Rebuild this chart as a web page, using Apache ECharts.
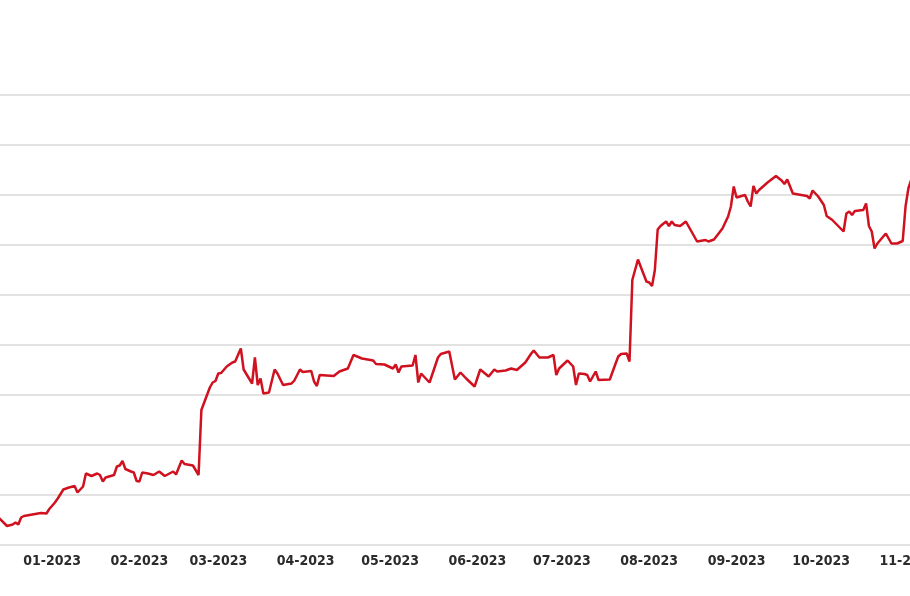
<!DOCTYPE html>
<html>
<head>
<meta charset="utf-8">
<style>
html,body{margin:0;padding:0;background:#fff;}
#chart{width:910px;height:596px;}
</style>
<script src="https://cdn.jsdelivr.net/npm/echarts@6/dist/echarts.min.js"></script>
</head>
<body>
<div id="chart"></div>
<script>
const dates = [
'2022-12-13','2022-12-16','2022-12-18','2022-12-19','2022-12-20','2022-12-21','2022-12-22','2022-12-24','2022-12-27','2022-12-28',
'2022-12-30','2022-12-31','2023-01-02','2023-01-03','2023-01-05','2023-01-07','2023-01-09','2023-01-10','2023-01-12','2023-01-13',
'2023-01-15','2023-01-17','2023-01-18','2023-01-19','2023-01-20','2023-01-23','2023-01-24','2023-01-25','2023-01-26','2023-01-27',
'2023-01-29','2023-01-30','2023-01-31','2023-02-01','2023-02-02','2023-02-04','2023-02-06','2023-02-08','2023-02-10','2023-02-13',
'2023-02-14','2023-02-16','2023-02-17','2023-02-20','2023-02-22','2023-02-23','2023-02-24','2023-02-26','2023-02-27','2023-02-28',
'2023-03-01','2023-03-02','2023-03-04','2023-03-06','2023-03-07','2023-03-09','2023-03-10','2023-03-13','2023-03-14','2023-03-15',
'2023-03-16','2023-03-17','2023-03-19','2023-03-21','2023-03-22','2023-03-24','2023-03-27','2023-03-28','2023-03-30','2023-03-31',
'2023-04-03','2023-04-04','2023-04-05','2023-04-06','2023-04-11','2023-04-13','2023-04-16','2023-04-18','2023-04-21','2023-04-25',
'2023-04-26','2023-04-29','2023-05-02','2023-05-03','2023-05-04','2023-05-05','2023-05-09','2023-05-10','2023-05-11','2023-05-12',
'2023-05-15','2023-05-18','2023-05-19','2023-05-22','2023-05-24','2023-05-26','2023-05-28','2023-05-31','2023-06-02','2023-06-05',
'2023-06-07','2023-06-08','2023-06-11','2023-06-13','2023-06-15','2023-06-18','2023-06-20','2023-06-21','2023-06-23','2023-06-26',
'2023-06-28','2023-06-29','2023-06-30','2023-07-03','2023-07-05','2023-07-06','2023-07-07','2023-07-09','2023-07-10','2023-07-11',
'2023-07-13','2023-07-14','2023-07-18','2023-07-20','2023-07-21','2023-07-22','2023-07-24','2023-07-25','2023-07-26','2023-07-28',
'2023-07-31','2023-08-01','2023-08-02','2023-08-03','2023-08-04','2023-08-05','2023-08-07','2023-08-08','2023-08-09','2023-08-10',
'2023-08-12','2023-08-14','2023-08-16','2023-08-18','2023-08-21','2023-08-22','2023-08-24','2023-08-27','2023-08-29','2023-08-30',
'2023-08-31','2023-09-01','2023-09-04','2023-09-05','2023-09-06','2023-09-07','2023-09-08','2023-09-09','2023-09-12','2023-09-15',
'2023-09-17','2023-09-18','2023-09-19','2023-09-21','2023-09-26','2023-09-27','2023-09-28','2023-09-30','2023-10-02','2023-10-03',
'2023-10-05','2023-10-09','2023-10-10','2023-10-11','2023-10-12','2023-10-13','2023-10-16','2023-10-17','2023-10-18','2023-10-19',
'2023-10-20','2023-10-21','2023-10-24','2023-10-26','2023-10-28','2023-10-30','2023-10-31','2023-11-01','2023-11-02'
];
const values = [
5.5,3.8,4.1,4.5,4.1,5.5,5.8,6.0,6.3,6.4,
6.3,7.2,8.5,9.3,11.1,11.5,11.8,10.5,11.7,14.3,
13.8,14.3,14.0,12.7,13.5,14.0,15.7,15.9,16.8,15.2,
14.7,14.5,12.8,12.7,14.5,14.3,14.0,14.7,13.8,14.7,
14.1,16.9,16.2,15.9,14.0,27.0,28.5,31.5,32.5,32.8,
34.3,34.4,35.7,36.5,36.7,39.3,35.1,32.3,37.5,32.0,
33.3,30.3,30.5,35.1,34.3,32.0,32.3,32.9,35.1,34.6,
34.8,32.7,31.8,34.0,33.8,34.7,35.3,38.0,37.3,36.9,
36.2,36.1,35.3,36.1,34.5,35.7,35.9,38.0,32.5,34.3,
32.5,37.5,38.2,38.7,33.1,34.5,33.3,31.7,35.1,33.7,
35.1,34.7,34.9,35.3,35.0,36.5,38.2,38.9,37.5,37.5,
38.0,34.0,35.3,36.9,35.7,32.0,34.3,34.2,34.0,32.7,
34.7,33.0,33.1,36.2,37.7,38.2,38.3,36.7,53.0,57.1,
52.7,52.5,51.8,55.0,63.1,63.8,64.7,63.8,64.7,64.0,
63.8,64.7,62.7,60.7,61.0,60.7,61.1,63.3,65.7,67.7,
71.7,69.5,70.0,68.7,67.7,71.8,70.3,71.0,72.5,73.8,
72.9,72.2,73.1,70.3,69.8,69.3,70.9,69.7,68.0,65.8,
65.0,62.7,66.3,66.7,66.0,66.8,67.0,68.3,63.8,62.7,
59.3,60.3,62.3,60.3,60.3,60.8,67.7,71.3,73.0
];
const xMin = '2022-12-13T12:00:00';
const xMax = '2023-11-01T14:00:00';
const yMin = 0, yMax = 90, yStep = 10;

const chart = echarts.init(document.getElementById('chart'), null, {renderer: 'canvas'});
chart.setOption({
  animation: false,
  backgroundColor: '#ffffff',
  grid: {left: 0, right: 0, top: 95, bottom: 51, containLabel: false, outerBoundsMode: 'none'},
  xAxis: {
    type: 'time',
    min: xMin,
    max: xMax,
    splitNumber: 11,
    axisLine: {show: false},
    axisTick: {show: false},
    splitLine: {show: false},
    axisLabel: {
      formatter: '{MM}-{yyyy}',
      color: '#2b2b2b',
      fontSize: 14,
      fontWeight: 'bold',
      fontFamily: "'Liberation Sans Narrow', 'DejaVu Sans Condensed', sans-serif",
      margin: 9,
      hideOverlap: false
    }
  },
  yAxis: {
    type: 'value',
    min: yMin,
    max: yMax,
    interval: yStep,
    axisLine: {show: false},
    axisTick: {show: false},
    axisLabel: {show: false},
    splitLine: {lineStyle: {color: '#e2e2e2', width: 2}}
  },
  series: [{
    type: 'line',
    data: dates.map((d, i) => [d, values[i]]),
    symbol: 'none',
    lineStyle: {color: '#d0111f', width: 2.5},
    itemStyle: {color: '#d0111f'}
  }]
});
</script>
</body>
</html>
